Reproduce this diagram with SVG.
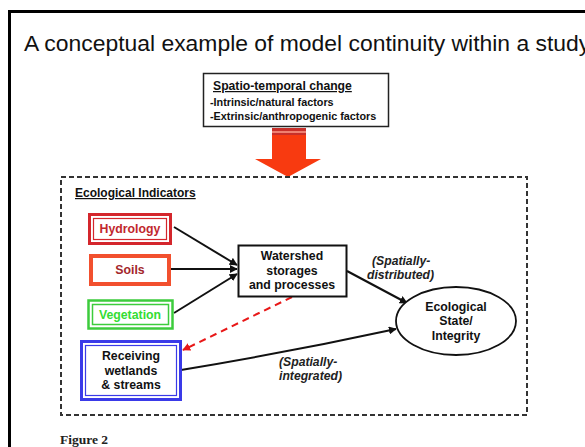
<svg xmlns="http://www.w3.org/2000/svg" width="585" height="447" viewBox="0 0 585 447">
<style>
.t{font-family:"Liberation Sans",Arial,sans-serif;font-weight:bold;font-size:12.3px;text-anchor:middle;fill:#111}
.i{font-family:"Liberation Sans",Arial,sans-serif;font-weight:bold;font-style:italic;font-size:12.2px;fill:#222}
.c{stroke:#111;stroke-width:2;fill:none}
</style>
<defs>
<marker id="ah" viewBox="0 0 10 10" refX="9" refY="5" markerWidth="8" markerHeight="8" markerUnits="userSpaceOnUse" orient="auto"><path d="M0,0 L10,5 L0,10 z" fill="#111"/></marker>
<marker id="ahr" viewBox="0 0 10 10" refX="9" refY="5" markerWidth="8" markerHeight="8" markerUnits="userSpaceOnUse" orient="auto"><path d="M0,0 L10,5 L0,10 z" fill="#e81818"/></marker>
</defs>
<rect width="585" height="447" fill="#fff"/>
<rect x="9.5" y="11.5" width="600" height="460" fill="none" stroke="#000" stroke-width="3"/>
<text x="24" y="51" font-family="'Liberation Sans',Arial,sans-serif" font-size="22.9" fill="#111">A conceptual example of model continuity within a study</text>

<g id="spatio">
<rect x="203.5" y="73.5" width="185" height="53" fill="#fff" stroke="#222" stroke-width="1.5"/>
<text x="213" y="90" font-family="'Liberation Sans',Arial,sans-serif" font-weight="bold" font-size="12.2" text-decoration="underline" fill="#111">Spatio-temporal change</text>
<text x="210" y="106" font-family="'Liberation Sans',Arial,sans-serif" font-weight="bold" font-size="10.8" fill="#111">-Intrinsic/natural factors</text>
<text x="210" y="120" font-family="'Liberation Sans',Arial,sans-serif" font-weight="bold" font-size="10.8" fill="#111">-Extrinsic/anthropogenic factors</text>
</g>

<g id="bigarrow">
<path d="M272,128 H306 V159 H321 L288,177 L255,159 H272 Z" fill="#f83a10"/>
<rect x="272" y="128" width="34" height="3" fill="#c8302a"/>
<rect x="272" y="131" width="34" height="2" fill="#f08070"/>
<rect x="272" y="133" width="34" height="2" fill="#c8302a"/>
</g>

<g id="indicators">
<rect x="61" y="177" width="466" height="238" fill="none" stroke="#333" stroke-width="2" stroke-dasharray="5,3"/>
<text x="75" y="197" font-family="'Liberation Sans',Arial,sans-serif" font-weight="bold" font-size="12" text-decoration="underline" fill="#111">Ecological Indicators</text>
</g>

<g id="connectors">
<line class="c" x1="174" y1="227" x2="237" y2="265" marker-end="url(#ah)"/>
<line class="c" x1="171" y1="269" x2="237" y2="269" marker-end="url(#ah)"/>
<line class="c" x1="174" y1="313" x2="237" y2="274" marker-end="url(#ah)"/>
<line class="c" x1="347" y1="271" x2="407" y2="303" marker-end="url(#ah)"/>
<path class="c" d="M181,370 Q290,352 396,329" marker-end="url(#ah)"/>
<line x1="292" y1="297" x2="183" y2="350" stroke="#e81818" stroke-width="2" stroke-dasharray="7,5" marker-end="url(#ahr)"/>
</g>

<g id="hydrology">
<rect x="89.5" y="214.5" width="81" height="29" fill="#fff" stroke="#d4262c" stroke-width="3"/>
<rect x="93.5" y="218.5" width="73" height="21" fill="none" stroke="#d4262c" stroke-width="1.2"/>
<text class="t" x="130" y="233" style="fill:#c1272d">Hydrology</text>
</g>
<g id="soils">
<rect x="91" y="256" width="78" height="28" fill="#fff" stroke="#f2502e" stroke-width="4"/>
<text class="t" x="130" y="274" style="fill:#a3262b">Soils</text>
</g>
<g id="vegetation">
<rect x="88.5" y="300.5" width="84" height="28" fill="#fff" stroke="#3ccc3c" stroke-width="2.5"/>
<rect x="92.5" y="304.5" width="76" height="20" fill="none" stroke="#3ccc3c" stroke-width="1.5"/>
<text class="t" x="130" y="319" style="fill:#33dd33">Vegetation</text>
</g>
<g id="receiving">
<rect x="81.5" y="341.5" width="99" height="58" fill="#fff" stroke="#3a3ae8" stroke-width="3"/>
<rect x="85.5" y="345.5" width="91" height="50" fill="none" stroke="#3a3ae8" stroke-width="1.2"/>
<text class="t" x="131" y="360">Receiving</text>
<text class="t" x="131" y="375">wetlands</text>
<text class="t" x="131" y="389">&amp; streams</text>
</g>
<g id="watershed">
<rect x="238.5" y="245.5" width="108" height="51" fill="#fff" stroke="#111" stroke-width="2"/>
<text class="t" x="292" y="260">Watershed</text>
<text class="t" x="292" y="275">storages</text>
<text class="t" x="292" y="289">and processes</text>
</g>
<g id="ecostate">
<ellipse cx="456" cy="321" rx="60" ry="34" fill="#fff" stroke="#111" stroke-width="1.8"/>
<text class="t" x="456" y="311">Ecological</text>
<text class="t" x="456" y="325">State/</text>
<text class="t" x="456" y="340">Integrity</text>
</g>
<g id="labels">
<text class="i" x="372" y="265">(Spatially-</text>
<text class="i" x="367" y="279">distributed)</text>
<text class="i" x="279" y="366">(Spatially-</text>
<text class="i" x="279" y="380">integrated)</text>
</g>
<text x="60" y="444" font-family="'Liberation Serif','Times New Roman',serif" font-weight="bold" font-size="13.5" fill="#222">Figure 2</text>
</svg>
